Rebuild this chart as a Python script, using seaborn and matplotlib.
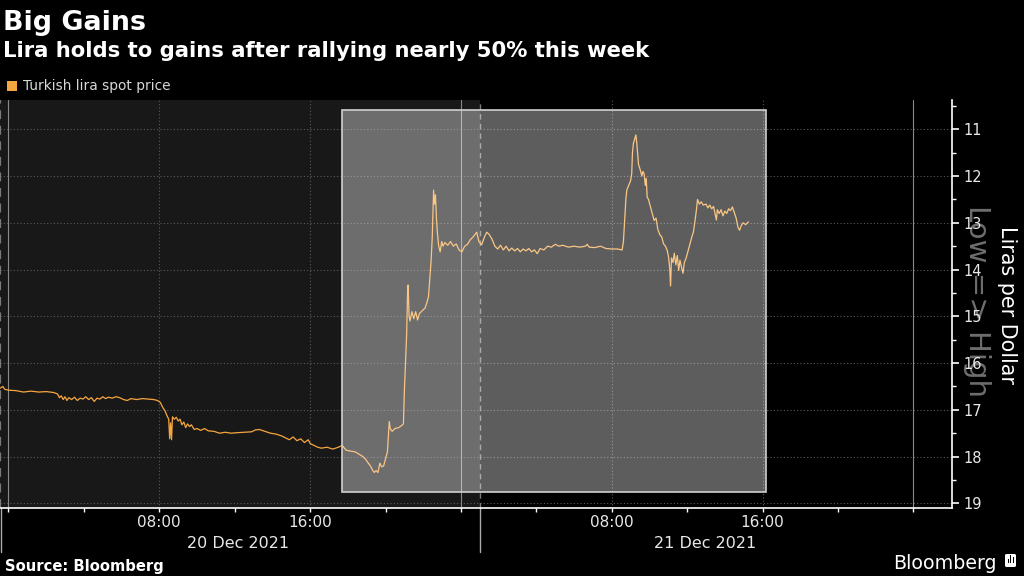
import matplotlib
matplotlib.use("Agg")
import matplotlib.pyplot as plt
import matplotlib.transforms as mtransforms
from matplotlib.patches import Rectangle, FancyBboxPatch
import seaborn as sns
import pandas as pd

# ---------------- data (hours since 00:00, 20 Dec 2021; USD/TRY) ----------------
hours = [
    -0.45, -0.3, -0.2, 0.0, 0.4, 0.8, 1.2, 1.6, 2.0, 2.4, 2.6, 2.7, 2.8, 2.9, 3.0, 3.1,
    3.2, 3.35, 3.5, 3.65, 3.8, 3.95, 4.1, 4.25, 4.4, 4.55, 4.7, 4.85, 5.0, 5.15, 5.3,
    5.5, 5.7, 5.9, 6.1, 6.3, 6.5, 6.8, 7.1, 7.4, 7.7, 7.9, 8.05, 8.2, 8.3, 8.4, 8.5,
    8.55, 8.6, 8.65, 8.7, 8.8, 8.9, 9.0, 9.1, 9.2, 9.3, 9.4, 9.5, 9.6, 9.7, 9.85, 10.0,
    10.2, 10.4, 10.6, 10.9, 11.2, 11.5, 11.8, 12.1, 12.5, 12.9, 13.1, 13.3, 13.6, 13.9,
    14.2, 14.5, 14.7, 14.9, 15.1, 15.3, 15.5, 15.7, 15.9, 16.0, 16.2, 16.4, 16.6, 16.9,
    17.2, 17.5, 17.7, 17.9, 18.1, 18.4, 18.6, 18.8, 18.95, 19.05, 19.2, 19.3, 19.4,
    19.5, 19.6, 19.7, 19.8, 19.9, 20.0, 20.1, 20.2, 20.25, 20.35, 20.5, 20.7, 20.85,
    20.95, 21.0, 21.05, 21.12, 21.17, 21.2, 21.25, 21.3, 21.4, 21.5, 21.6, 21.7, 21.8,
    21.95, 22.1, 22.2, 22.28, 22.35, 22.42, 22.48, 22.55, 22.6, 22.65, 22.7, 22.75,
    22.82, 22.9, 22.98, 23.05, 23.15, 23.3, 23.45, 23.6, 23.75, 23.9, 24.05, 24.2,
    24.35, 24.5, 24.65, 24.84, 24.95, 25.1, 25.25, 25.37, 25.5, 25.65, 25.8, 25.95,
    26.1, 26.25, 26.4, 26.55, 26.7, 26.85, 27.0, 27.15, 27.3, 27.45, 27.6, 27.75, 27.9,
    28.05, 28.2, 28.4, 28.6, 28.8, 29.0, 29.2, 29.4, 29.7, 30.0, 30.3, 30.6, 30.7, 30.8,
    31.1, 31.4, 31.7, 32.0, 32.3, 32.55, 32.62, 32.68, 32.75, 32.8, 32.9, 33.0, 33.06,
    33.1, 33.15, 33.22, 33.28, 33.33, 33.38, 33.42, 33.5, 33.6, 33.65, 33.72, 33.78,
    33.83, 33.88, 33.95, 34.05, 34.15, 34.25, 34.35, 34.45, 34.56, 34.65, 34.75, 34.85,
    34.95, 35.02, 35.08, 35.12, 35.17, 35.25, 35.32, 35.4, 35.48, 35.55, 35.62, 35.7,
    35.78, 35.85, 35.95, 36.05, 36.15, 36.25, 36.33, 36.42, 36.5, 36.55, 36.65, 36.75,
    36.85, 37.0, 37.1, 37.2, 37.3, 37.4, 37.5, 37.55, 37.6, 37.7, 37.8, 37.9, 38.0,
    38.1, 38.2, 38.3, 38.4, 38.5, 38.6, 38.7, 38.78, 38.88, 38.98, 39.1, 39.25]
price = [
    16.54, 16.50, 16.56, 16.58, 16.59, 16.62, 16.60, 16.62, 16.61, 16.63, 16.66, 16.74,
    16.70, 16.78, 16.72, 16.80, 16.74, 16.78, 16.73, 16.80, 16.75, 16.77, 16.72, 16.78,
    16.74, 16.82, 16.75, 16.77, 16.72, 16.76, 16.73, 16.75, 16.72, 16.74, 16.78, 16.80,
    16.76, 16.78, 16.76, 16.77, 16.78, 16.80, 16.84, 16.96, 17.02, 17.12, 17.20, 17.62,
    17.28, 17.64, 17.15, 17.20, 17.16, 17.24, 17.20, 17.32, 17.26, 17.38, 17.30, 17.36,
    17.32, 17.42, 17.40, 17.44, 17.40, 17.45, 17.46, 17.50, 17.48, 17.50, 17.49, 17.48,
    17.47, 17.43, 17.42, 17.46, 17.50, 17.52, 17.56, 17.60, 17.64, 17.58, 17.66, 17.62,
    17.70, 17.64, 17.72, 17.76, 17.80, 17.82, 17.80, 17.84, 17.80, 17.76, 17.86, 17.88,
    17.90, 17.95, 18.00, 18.06, 18.12, 18.20, 18.28, 18.34, 18.30, 18.34, 18.14, 18.22,
    18.20, 18.05, 17.90, 17.25, 17.40, 17.46, 17.40, 17.38, 17.34, 17.30, 16.60, 16.10,
    15.40, 14.50, 14.33, 15.00, 15.10, 14.90, 15.05, 14.90, 15.08, 14.94, 14.88, 14.82,
    14.70, 14.58, 14.20, 13.80, 13.30, 12.30, 12.60, 12.40, 12.90, 13.20, 13.50, 13.62,
    13.40, 13.50, 13.42, 13.48, 13.40, 13.50, 13.45, 13.58, 13.62, 13.50, 13.46, 13.36,
    13.30, 13.20, 13.40, 13.47, 13.30, 13.20, 13.25, 13.35, 13.50, 13.56, 13.48, 13.58,
    13.50, 13.60, 13.54, 13.60, 13.55, 13.62, 13.56, 13.60, 13.55, 13.62, 13.58, 13.66,
    13.55, 13.58, 13.50, 13.52, 13.46, 13.50, 13.48, 13.52, 13.50, 13.52, 13.50, 13.46,
    13.52, 13.53, 13.50, 13.55, 13.56, 13.56, 13.58, 13.40, 12.98, 12.50, 12.30, 12.20,
    12.10, 11.95, 11.50, 11.30, 11.20, 11.12, 11.30, 11.55, 11.75, 11.85, 12.00, 11.90,
    11.95, 12.20, 12.05, 12.45, 12.50, 12.65, 12.80, 12.95, 12.90, 13.15, 13.26, 13.30,
    13.45, 13.50, 13.60, 13.75, 14.00, 14.35, 13.75, 13.85, 13.65, 13.90, 13.70, 14.02,
    13.80, 13.95, 14.08, 13.85, 13.75, 13.60, 13.45, 13.30, 13.20, 12.95, 12.70, 12.50,
    12.60, 12.55, 12.62, 12.60, 12.68, 12.62, 12.70, 12.65, 12.85, 12.94, 12.72, 12.80,
    12.72, 12.85, 12.75, 12.80, 12.70, 12.74, 12.66, 12.78, 12.90, 13.10, 13.16, 13.05,
    13.00, 13.04, 12.98]

y_ticks = [11, 12, 13, 14, 15, 16, 17, 18, 19]
x_major = [8, 16, 32, 40]
x_major_labels = ["08:00", "16:00", "08:00", "16:00"]
x_minor = [0, 4, 12, 20, 24, 28, 36, 44, 48]
day_labels = ["20 Dec 2021", "21 Dec 2021"]
day_label_pos = [12.2, 36.95]
series_name = "Turkish lira spot price"

title = "Big Gains"
subtitle = "Lira holds to gains after rallying nearly 50% this week"
source = "Source: Bloomberg"

# ---------------- style ----------------
sns.set_theme(style="dark")
plt.rcParams["font.family"] = ["DejaVu Sans"]
plt.rcParams["axes.facecolor"] = "black"
plt.rcParams["figure.facecolor"] = "black"

ORANGE = "#f7a63f"
W, H = 1024, 576
fig = plt.figure(figsize=(W / 100, H / 100), dpi=100)
ax = fig.add_axes([0, 68 / H, 952 / W, 408 / H])
ax.set_facecolor("black")

XMIN, XMAX = -0.45, 50.05
YTOP, YBOT = 10.373, 19.1
SEP = 25.0

df = pd.DataFrame({"hour": hours, "price": price})

# dark session shading
ax.axvspan(XMIN, SEP, color="#181818", zorder=0, lw=0)

# grid
for v in y_ticks:
    ax.axhline(v, color="#5a5a5a", lw=0.8, ls=(0, (1, 2)), zorder=1)
for v in x_major:
    ax.axvline(v, color="#5a5a5a", lw=0.8, ls=(0, (1, 2)), zorder=1)
for v in [0, 24, 48]:
    ax.axvline(v, color="#8a8a8a", lw=0.8, zorder=1)
ax.axvline(SEP, color="#7a7a7a", lw=1.0, ls=(0, (4, 3)), zorder=1)
ax.axvline(XMIN, color="#7a7a7a", lw=1.6, ls=(0, (4, 3)), zorder=1)

sns.lineplot(data=df, x="hour", y="price", ax=ax, color=ORANGE, lw=0.9,
             estimator=None, sort=False, zorder=4, legend=False)

# highlight box
ax.add_patch(Rectangle((17.69, 10.587), 40.19 - 17.69, 18.758 - 10.587,
                       facecolor=(1, 1, 1, 0.37), edgecolor="#d0d0d0", lw=1.2, zorder=5))

ax.set_xlim(XMIN, XMAX)
ax.set_ylim(YBOT, YTOP)
ax.set_xlabel("")
ax.set_ylabel("")
ax.grid(False)

# spines
for s in ["top", "left"]:
    ax.spines[s].set_visible(False)
for s in ["bottom", "right"]:
    ax.spines[s].set_visible(True)
    ax.spines[s].set_color("white")
    ax.spines[s].set_linewidth(1.2)

ax.yaxis.tick_right()
ax.set_yticks(y_ticks)
ax.set_yticks([v + 0.5 for v in y_ticks[:-1]] + [10.5], minor=True)
ax.set_yticklabels([str(v) for v in y_ticks])
ax.tick_params(axis="y", which="major", length=5, width=1.2, colors="white",
               labelcolor="#e8e8e8", labelsize=10.5, pad=3, right=True, left=False)
ax.tick_params(axis="y", which="minor", length=3, width=1, colors="white", right=True, left=False)

ax.set_xticks(x_major)
ax.set_xticklabels(x_major_labels)
ax.set_xticks(x_minor, minor=True)
ax.tick_params(axis="x", which="both", length=3, width=1, colors="white",
               labelcolor="#e8e8e8", labelsize=11, pad=2, bottom=True)

# day labels and separators below axis
blend = mtransforms.blended_transform_factory(ax.transData, fig.transFigure)
for lab, pos in zip(day_labels, day_label_pos):
    ax.text(pos, 1 - 543 / H, lab, transform=blend, ha="center", va="center",
            color="#e8e8e8", fontsize=11.5)
for xv in [XMIN + 0.03, SEP]:
    ax.plot([xv, xv], [1 - 508 / H, 1 - 552 / H], transform=blend, color="#aaaaaa",
            lw=1.0, clip_on=False)

# titles
fig.text(3 / W, 1 - 30 / H, title, color="white", fontsize=19.4, fontweight="bold",
         ha="left", va="baseline")
fig.text(3 / W, 1 - 57 / H, subtitle, color="white", fontsize=15.2, fontweight="bold",
         ha="left", va="baseline")

# legend
fig.patches.append(Rectangle((7 / W, 1 - 91 / H), 10 / W, 10 / H, transform=fig.transFigure,
                             facecolor=ORANGE, edgecolor="none"))
fig.text(23 / W, 1 - 86 / H, series_name, color="#d8d8d8", fontsize=9.9,
         ha="left", va="center")

# right-side labels
fig.text(977 / W, 1 - 301 / H, "Low => High", color="#6e6e6e", fontsize=21,
         rotation=270, ha="center", va="center", zorder=-1)
fig.text(1007 / W, 1 - 305 / H, "Liras per Dollar", color="white", fontsize=14.9,
         rotation=270, ha="center", va="center")

# footer
fig.text(5 / W, 1 - 570.5 / H, source, color="white", fontsize=10.6, fontweight="bold",
         ha="left", va="baseline")
fig.text(997 / W, 1 - 569 / H, "Bloomberg", color="white", fontsize=13.7,
         ha="right", va="baseline")
fig.patches.append(FancyBboxPatch((1005 / W, 1 - 567 / H), 11 / W, 13 / H,
                                  boxstyle="round,pad=0.0,rounding_size=0.002",
                                  transform=fig.transFigure, facecolor="white",
                                  edgecolor="none"))
for i, hgt in enumerate([4, 8, 6]):
    fig.patches.append(Rectangle(((1007.5 + i * 2.5) / W, 1 - 563 / H), 1.2 / W, hgt / H,
                                 transform=fig.transFigure, facecolor="black",
                                 edgecolor="none"))

fig.savefig("out.png", dpi=100, facecolor="black")
